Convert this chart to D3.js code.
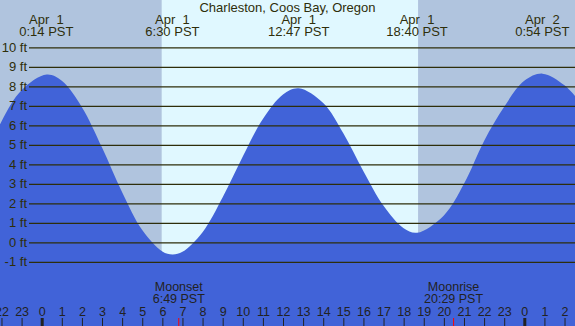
<!DOCTYPE html>
<html>
<head>
<meta charset="utf-8">
<script src="https://cdn.jsdelivr.net/npm/d3@7/dist/d3.min.js"></script>
<style>
  body { margin: 0; padding: 0; overflow: hidden; }
  svg { display: block; font-family: "Liberation Sans", Arial, sans-serif; }
</style>
</head>
<body>
<div id="chart"></div>
<script>
// tide heights (hours from Apr 1 0:00 PST, feet)
var tideHours = [-3, -2, -1, 0.25, 1, 2, 3, 4, 5, 6, 6.5, 7, 8, 9, 10, 11, 12, 12.78,
                 14, 15, 16, 17, 18, 18.67, 20, 21, 22, 23, 24, 24.9, 26, 27]
var tideFeet = [3.8, 6.2, 7.8, 8.6, 8.28, 6.93, 4.86, 2.57, 0.63, -0.47, -0.62, -0.49,
                0.52, 2.31, 4.4, 6.32, 7.58, 7.9, 7.14, 5.59, 3.65, 1.87, 0.72, 0.49,
                1.38, 3.0, 5.2, 6.95, 8.28, 8.65, 8.05, 6.9]

// high / low tide labels on top
var eventHours = [14/60, 6 + 30/60, 12 + 47/60, 18 + 40/60, 24 + 54/60]
var eventDays = ["Apr  1", "Apr  1", "Apr  1", "Apr  1", "Apr  2"]
var eventTimes = ["0:14 PST", "6:30 PST", "12:47 PST", "18:40 PST", "0:54 PST"]

// sun and moon
var sunrise = 5 + 58/60
var sunset = 18 + 43/60
var moonHours = [6 + 49/60, 20 + 29/60]
var moonNames = ["Moonset", "Moonrise"]
var moonTimes = ["6:49 PST", "20:29 PST"]

var feetTicks = [-1, 0, 1, 2, 3, 4, 5, 6, 7, 8, 9, 10]
var hourTicks = d3.range(-2, 27)

var width = 575, height = 326

var x = d3.scaleLinear().domain([0, 24]).range([41.7, 524.3])
var y = d3.scaleLinear().domain([0, 10]).range([242.3, 47.3])

var svg = d3.select("#chart").append("svg")
    .attr("width", width)
    .attr("height", height)

// night background, then daylight band
svg.append("rect")
    .attr("width", width).attr("height", height)
    .attr("fill", "#b0c4de")

svg.append("rect")
    .attr("x", x(sunrise))
    .attr("y", 0)
    .attr("width", x(sunset) - x(sunrise))
    .attr("height", height)
    .attr("fill", "#e0f8ff")

var tide = tideHours.map(function(h, i) { return { h: h, f: tideFeet[i] } })

var area = d3.area()
    .curve(d3.curveCatmullRom.alpha(0.5))
    .x(function(d) { return x(d.h) })
    .y0(height)
    .y1(function(d) { return y(d.f) })

svg.append("path")
    .attr("d", area(tide))
    .attr("fill", "#4163d8")

// feet grid
var yAxis = d3.axisLeft(y)
    .tickValues(feetTicks)
    .tickSize(-(width - 29))
    .tickPadding(2)
    .tickFormat(function(d) { return d + " ft" })

var gy = svg.append("g")
    .attr("transform", "translate(29,0)")
    .call(yAxis)
gy.select(".domain").remove()
gy.selectAll(".tick line").attr("stroke", "#2e2e0a").attr("stroke-width", 1.2)
gy.selectAll(".tick text")
    .attr("fill", "#2e2e0a")
    .style("font-size", "13px")
    .style("font-family", "'Liberation Sans', Arial, sans-serif")

// hour axis at the bottom
var xAxis = d3.axisTop(x)
    .tickValues(hourTicks)
    .tickSize(8)
    .tickPadding(2)
    .tickFormat(function(d) { return ((d % 24) + 24) % 24 })

var gx = svg.append("g")
    .attr("transform", "translate(0," + height + ")")
    .call(xAxis)
gx.select(".domain").remove()
gx.selectAll(".tick line")
    .attr("stroke", "#222")
    .attr("stroke-width", function(d) { return d % 24 === 0 ? 3 : 1 })
gx.selectAll(".tick text")
    .attr("fill", "#222")
    .style("font-size", "12.5px")
    .style("font-family", "'Liberation Sans', Arial, sans-serif")

// moon ticks
svg.selectAll(".moonTick")
    .data(moonHours)
    .enter().append("line")
    .attr("class", "moonTick")
    .attr("x1", function(d) { return x(d) })
    .attr("x2", function(d) { return x(d) })
    .attr("y1", height - 8)
    .attr("y2", height)
    .attr("stroke", "#ff0000")
    .attr("stroke-width", 1)

var moonLabels = svg.selectAll(".moonLabel")
    .data(moonHours)
    .enter().append("text")
    .attr("class", "moonLabel")
    .attr("text-anchor", "middle")
    .attr("fill", "#222")
    .style("font-size", "12.5px")

moonLabels.append("tspan")
    .attr("x", function(d) { return x(d) })
    .attr("y", 291)
    .text(function(d, i) { return moonNames[i] })
moonLabels.append("tspan")
    .attr("x", function(d) { return x(d) })
    .attr("y", 303)
    .text(function(d, i) { return moonTimes[i] })

// title
svg.append("text")
    .attr("x", width / 2)
    .attr("y", 12)
    .attr("text-anchor", "middle")
    .attr("fill", "#2e2e0a")
    .style("font-size", "13px")
    .text("Charleston, Coos Bay, Oregon")

// tide events
var ev = svg.selectAll(".evLabel")
    .data(eventHours)
    .enter().append("text")
    .attr("class", "evLabel")
    .attr("text-anchor", "middle")
    .attr("fill", "#2e2e0a")
    .style("font-size", "13px")
    .style("white-space", "pre")
    .attr("xml:space", "preserve")

ev.append("tspan")
    .attr("x", function(d) { return x(d) })
    .attr("y", 24)
    .text(function(d, i) { return eventDays[i] })
ev.append("tspan")
    .attr("x", function(d) { return x(d) })
    .attr("y", 36)
    .text(function(d, i) { return eventTimes[i] })
</script>
</body>
</html>
